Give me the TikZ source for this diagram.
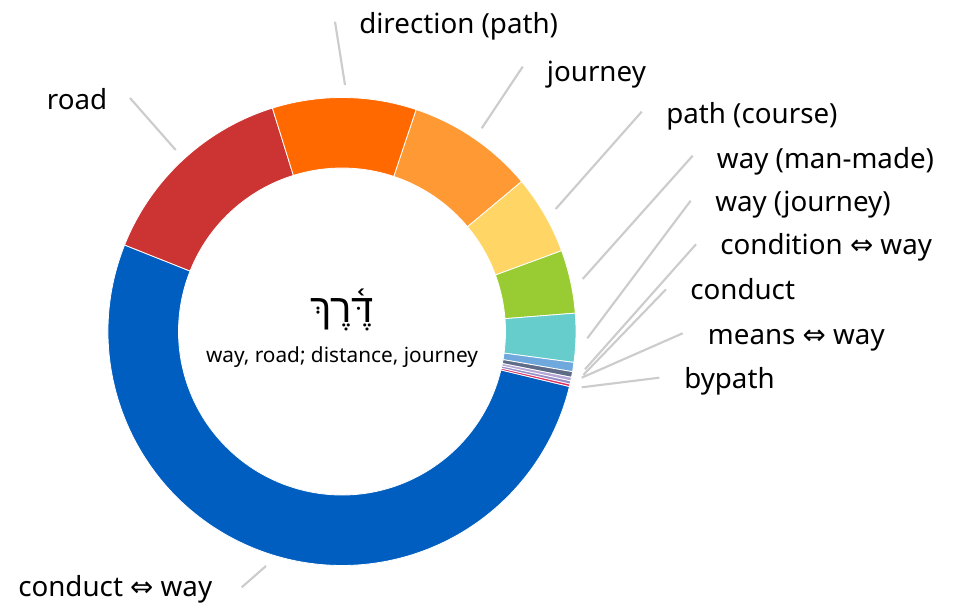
\documentclass[tikz,border=0pt]{standalone}
\usepackage{fontspec}
\usetikzlibrary{calc}
\setmainfont{Noto Sans}
\newfontfamily\symfont{DejaVu Sans}
\newfontfamily\hebfont[Script=Hebrew]{Liberation Sans}
\TeXXeTstate=1
\newcommand{\lrarr}{{\symfont\char"21D4}}
\definecolor{cblue}{RGB}{0,94,192}
\definecolor{cred}{RGB}{204,51,51}
\definecolor{corange}{RGB}{255,105,0}
\definecolor{clorange}{RGB}{255,153,51}
\definecolor{cyellow}{RGB}{255,214,102}
\definecolor{cgreen}{RGB}{153,204,51}
\definecolor{cteal}{RGB}{102,204,204}
\definecolor{clblue}{RGB}{111,168,220}
\definecolor{cslate}{RGB}{94,108,136}
\definecolor{clav}{RGB}{180,167,214}
\definecolor{clavb}{RGB}{150,140,200}
\definecolor{cpink}{RGB}{220,40,90}
\definecolor{cgray}{RGB}{204,204,204}
\tikzset{
  slice/.style={draw=white, line width=0.6pt},
  leader/.style={draw=cgray, line width=1.6pt},
  lbl/.style={anchor=base west, inner sep=0pt, font=\fontsize{20.8}{24}\selectfont, text=black},
}
\begin{document}
\begin{tikzpicture}[x=0.75pt,y=0.75pt]
\useasboundingbox (0,0) rectangle (958,608);
\coordinate (C) at (342,276.5);
\def\Ro{234}
\def\Ri{163.5}
\foreach \a/\b/\c in {158.3/346.4/cblue, 107.3/158.3/cred, 71.5/107.3/corange, 39.85/71.5/clorange, 20.2/39.85/cyellow, 4.5/20.2/cgreen, -7.6/4.5/cteal, -9.9/-7.6/clblue, -11.3/-9.9/cslate, -12.2/-11.3/clav, -13.0/-12.2/clavb, -13.6/-13.0/cpink}{
  \path[slice, fill=\c] ($(C)+(\a:\Ro)$) arc[start angle=\a, end angle=\b, radius=\Ro] -- ($(C)+(\b:\Ri)$) arc[start angle=\b, end angle=\a, radius=\Ri] -- cycle;
}
% center text
\node[inner sep=0pt, anchor=base] (heb) at (342,285) {\hebfont\fontsize{30}{34}\selectfont\beginR דֶּ֫רֶךְ\endR};
\node[inner sep=0pt, anchor=base] (sub) at (342,245) {\fontsize{15.6}{18}\selectfont way, road; distance, journey};
% labels
\node[lbl] (road) at (46.7,498.7) {road};
\node[lbl] (dir) at (359,574.7) {direction (path)};
\node[lbl] (jour) at (546.7,526.3) {journey};
\node[lbl] (pcourse) at (666,484.7) {path (course)};
\node[lbl] (wmm) at (716.7,439.7) {way (man-made)};
\node[lbl] (wj) at (715,396.3) {way (journey)};
\node[lbl] (cond) at (720,353) {condition \lrarr\ way};
\node[lbl] (conduct) at (690,308) {conduct};
\node[lbl] (means) at (707.7,263) {means \lrarr\ way};
\node[lbl] (bypath) at (684,219.7) {bypath};
\node[lbl] (cway) at (18,11.3) {conduct \lrarr\ way};
% leader end points
\coordinate (road-a) at (130,510);      \coordinate (road-b) at (175.7,458);
\coordinate (dir-a) at (335,586.3);     \coordinate (dir-b) at (345,523);
\coordinate (jour-a) at (522.7,541.3);  \coordinate (jour-b) at (481.7,479.7);
\coordinate (pc-a) at (641.7,496.3);    \coordinate (pc-b) at (555.7,399);
\coordinate (wmm-a) at (692.7,452.3);   \coordinate (wmm-b) at (582.7,329);
\coordinate (wj-a) at (690.7,407.3);    \coordinate (wj-b) at (587.3,269.7);
\coordinate (cond-a) at (696,363.7);    \coordinate (cond-b) at (585,238.7);
\coordinate (cdt-a) at (666,318.7);     \coordinate (cdt-b) at (583.3,233);
\coordinate (mns-a) at (682.7,274.7);   \coordinate (mns-b) at (581.7,230.3);
\coordinate (byp-a) at (659.3,230.3);   \coordinate (byp-b) at (581.7,220.7);
\coordinate (cw-a) at (266,42);         \coordinate (cw-b) at (241.7,20.7);
\foreach \n in {road,dir,jour,pc,wmm,wj,cond,cdt,mns,byp,cw}{
  \draw[leader] (\n-a) -- (\n-b);
}
\end{tikzpicture}
\end{document}
